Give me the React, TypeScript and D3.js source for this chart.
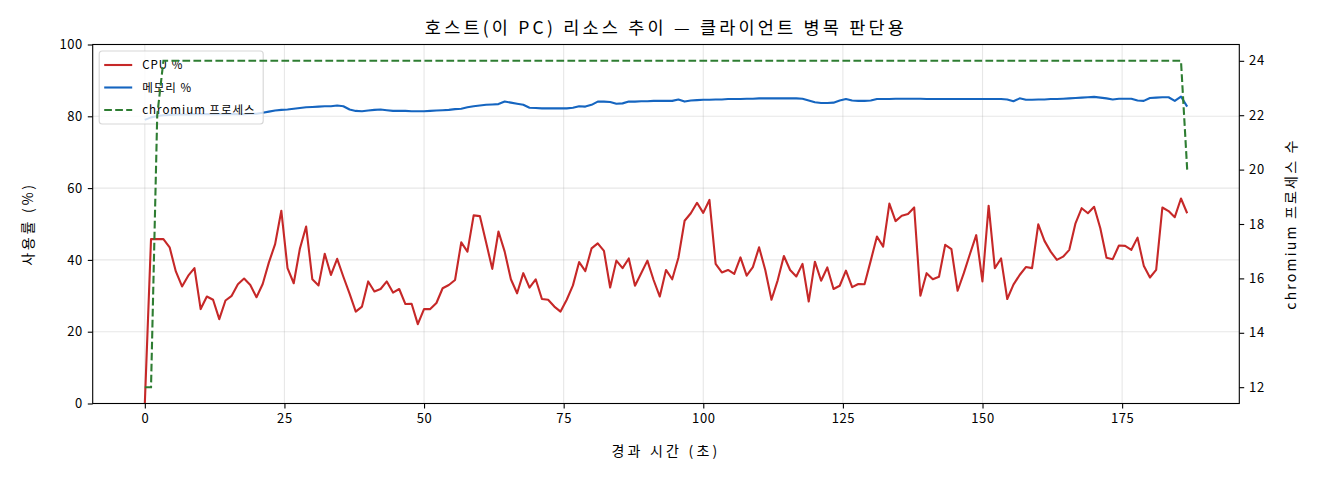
import React, { useEffect, useRef } from 'react';
import * as d3 from 'd3';

// sampling period of the monitor (seconds between samples)
const SAMPLE_SEC = 1.111;

const cpu = [
  0, 45.8, 45.8, 45.8, 43.5, 36.8, 32.6, 35.6, 37.7, 26.3,
  29.8, 28.9, 23.5, 28.7, 30, 33.2, 34.8, 33, 29.6, 33.3,
  39.3, 44.4, 53.7, 37.7, 33.5, 43.2, 49.3, 34.6, 32.9, 41.7,
  35.8, 40.3, 35.3, 30.6, 25.6, 27, 34, 31.2, 31.9, 34,
  30.9, 31.9, 27.7, 27.8, 22.1, 26.3, 26.3, 28, 32.1, 33,
  34.4, 44.9, 42.3, 52.4, 52.2, 44.9, 37.5, 47.9, 42.3, 34.6,
  30.7, 36.3, 32.3, 34.6, 29.1, 28.9, 27, 25.6, 28.9, 32.9,
  39.4, 36.9, 43.2, 44.6, 42.5, 32.3, 39.8, 37.7, 40.4, 32.8,
  36.3, 39.8, 34.4, 29.8, 37.2, 34.6, 40.6, 50.9, 53, 55.9,
  53.1, 56.7, 38.9, 36.5, 37.2, 36.1, 40.7, 35.6, 38, 43.5,
  37.2, 28.9, 34.3, 41.1, 37.2, 35.4, 38.9, 28.4, 39.5, 34.2,
  37.9, 31.9, 32.8, 37, 32.4, 33.3, 33.2, 39.8, 46.5, 43.7,
  55.7, 50.8, 52.3, 52.8, 54.6, 30, 36.3, 34.6, 35.3, 44.2,
  43, 31.4, 36.3, 41.7, 46.9, 34, 55.1, 37.7, 40.4, 29.1,
  33.1, 35.8, 38, 37.7, 49.9, 45.3, 42.3, 40, 40.9, 42.8,
  50.2, 54.4, 53, 54.8, 48.8, 40.6, 40.2, 44, 43.9, 42.8,
  46.2, 38.4, 35.1, 37.2, 54.6, 53.6, 51.9, 57.1, 53,
];

const mem = [
  79.0, 79.7, 80.1, 80.3, 80.4, 80.5, 80.5, 80.5, 80.6, 80.6,
  80.6, 80.6, 80.6, 80.6, 80.6, 80.6, 80.6, 80.7, 80.7, 81.0,
  81.3, 81.6, 81.8, 81.9, 82.1, 82.3, 82.5, 82.6, 82.7, 82.8,
  82.8, 83.0, 82.8, 81.9, 81.5, 81.4, 81.6, 81.8, 81.9, 81.7,
  81.5, 81.5, 81.5, 81.4, 81.4, 81.4, 81.5, 81.6, 81.7, 81.8,
  82.0, 82.1, 82.5, 82.8, 83.0, 83.2, 83.3, 83.4, 84.1, 83.8,
  83.5, 83.2, 82.4, 82.3, 82.2, 82.2, 82.2, 82.2, 82.2, 82.4,
  82.8, 82.7, 83.2, 84.1, 84.1, 84.0, 83.5, 83.6, 84.1, 84.1,
  84.2, 84.2, 84.3, 84.3, 84.3, 84.3, 84.7, 84.1, 84.4, 84.5,
  84.6, 84.6, 84.7, 84.7, 84.8, 84.8, 84.8, 84.9, 84.9, 85.0,
  85.0, 85.0, 85.0, 85.0, 85.0, 85.0, 84.9, 84.4, 83.9, 83.7,
  83.7, 83.8, 84.4, 84.8, 84.4, 84.3, 84.3, 84.4, 84.8, 84.8,
  84.8, 84.9, 84.9, 84.9, 84.9, 84.9, 84.8, 84.8, 84.8, 84.8,
  84.8, 84.8, 84.8, 84.8, 84.8, 84.8, 84.8, 84.8, 84.8, 84.7,
  84.2, 85.0, 84.6, 84.6, 84.7, 84.7, 84.8, 84.8, 84.9, 85.0,
  85.1, 85.2, 85.3, 85.4, 85.2, 85.0, 84.7, 84.9, 84.9, 84.9,
  84.4, 84.3, 85.1, 85.2, 85.3, 85.3, 84.3, 85.5, 82.7,
];

const procs = [
  12, 12, 22, 24, 24, 24, 24, 24, 24, 24,
  24, 24, 24, 24, 24, 24, 24, 24, 24, 24,
  24, 24, 24, 24, 24, 24, 24, 24, 24, 24,
  24, 24, 24, 24, 24, 24, 24, 24, 24, 24,
  24, 24, 24, 24, 24, 24, 24, 24, 24, 24,
  24, 24, 24, 24, 24, 24, 24, 24, 24, 24,
  24, 24, 24, 24, 24, 24, 24, 24, 24, 24,
  24, 24, 24, 24, 24, 24, 24, 24, 24, 24,
  24, 24, 24, 24, 24, 24, 24, 24, 24, 24,
  24, 24, 24, 24, 24, 24, 24, 24, 24, 24,
  24, 24, 24, 24, 24, 24, 24, 24, 24, 24,
  24, 24, 24, 24, 24, 24, 24, 24, 24, 24,
  24, 24, 24, 24, 24, 24, 24, 24, 24, 24,
  24, 24, 24, 24, 24, 24, 24, 24, 24, 24,
  24, 24, 24, 24, 24, 24, 24, 24, 24, 24,
  24, 24, 24, 24, 24, 24, 24, 24, 24, 24,
  24, 24, 24, 24, 24, 24, 24, 24, 20,
];

const xTicks = [0, 25, 50, 75, 100, 125, 150, 175];
const yTicks = [0, 20, 40, 60, 80, 100];
const y2Ticks = [12, 14, 16, 18, 20, 22, 24];

const TITLE = '호스트(이 PC) 리소스 추이 — 클라이언트 병목 판단용';
const X_LABEL = '경과 시간 (초)';
const Y_LABEL = '사용률 (%)';
const Y2_LABEL = 'chromium 프로세스 수';

const series = [
  { name: 'CPU %', values: cpu, color: '#c62828', dash: null, axis: 'left' },
  { name: '메모리 %', values: mem, color: '#1565c0', dash: null, axis: 'left' },
  { name: 'chromium 프로세스', values: procs, color: '#2e7d32', dash: '7.7,3.3', axis: 'right' },
];

const FONT = '"Noto Sans CJK KR", "DejaVu Sans", sans-serif';

export default function App() {
  const svgRef = useRef<SVGSVGElement>(null);

  useEffect(() => {
    document.body.style.margin = '0';
    if (!svgRef.current) return;
    drawChart();
  }, []);

  const drawChart = () => {
    const svg = d3.select(svgRef.current);
    svg.selectAll('*').remove();

    const width = 1320;
    const height = 480;
    const margin = { top: 44.5, right: 80.7, bottom: 76.5, left: 92.7 };
    const innerW = width - margin.left - margin.right;
    const innerH = height - margin.top - margin.bottom;

    svg.attr('width', width).attr('height', height).style('font-family', FONT);

    const g = svg.append('g').attr('transform', `translate(${margin.left},${margin.top})`);

    const times = cpu.map((_, i) => i * SAMPLE_SEC);
    const tMax = d3.max(times) as number;

    // matplotlib-ish 5% margins
    const x = d3.scaleLinear().domain([-tMax * 0.05, tMax * 1.05]).range([0, innerW]);
    const y = d3.scaleLinear().domain([0, 100]).range([innerH, 0]);
    const pMin = d3.min(procs) as number;
    const pMax = d3.max(procs) as number;
    const pPad = (pMax - pMin) * 0.05;
    const y2 = d3.scaleLinear().domain([pMin - pPad, pMax + pPad]).range([innerH, 0]);

    // grid
    const grid = g.append('g');
    xTicks.forEach((t) => {
      grid.append('line')
        .attr('x1', x(t)).attr('x2', x(t))
        .attr('y1', 0).attr('y2', innerH)
        .attr('stroke', '#b0b0b0').attr('stroke-opacity', 0.3).attr('stroke-width', 1.1);
    });
    yTicks.forEach((t) => {
      grid.append('line')
        .attr('x1', 0).attr('x2', innerW)
        .attr('y1', y(t)).attr('y2', y(t))
        .attr('stroke', '#b0b0b0').attr('stroke-opacity', 0.3).attr('stroke-width', 1.1);
    });

    const lineFor = (scale: d3.ScaleLinear<number, number>) =>
      d3.line<number>()
        .x((_, i) => x(times[i]))
        .y((d) => scale(d));

    // left-axis series
    series.filter((s) => s.axis === 'left').forEach((s) => {
      g.append('path')
        .datum(s.values)
        .attr('d', lineFor(y))
        .attr('fill', 'none')
        .attr('stroke', s.color)
        .attr('stroke-width', 2.1)
        .attr('stroke-linejoin', 'round');
    });

    // legend (belongs to left axes, so the twin-axis line draws over it)
    const lg = g.append('g').attr('transform', 'translate(6.5,6.5)');
    lg.append('rect')
      .attr('width', 164).attr('height', 73)
      .attr('rx', 3)
      .attr('fill', '#fff').attr('fill-opacity', 0.8)
      .attr('stroke', '#cccccc').attr('stroke-opacity', 0.8).attr('stroke-width', 1.1);
    series.forEach((s, i) => {
      const ly = 14 + i * 22.5;
      lg.append('line')
        .attr('x1', 5).attr('x2', 33)
        .attr('y1', ly).attr('y2', ly)
        .attr('stroke', s.color).attr('stroke-width', 2.1)
        .attr('stroke-dasharray', s.dash);
      lg.append('text')
        .attr('x', 43).attr('y', ly)
        .attr('dy', '0.35em')
        .style('font-size', '11.5px')
        .style('letter-spacing', '1px')
        .style('fill', '#000')
        .text(s.name);
    });

    // right-axis series
    series.filter((s) => s.axis === 'right').forEach((s) => {
      g.append('path')
        .datum(s.values)
        .attr('d', lineFor(y2))
        .attr('fill', 'none')
        .attr('stroke', s.color)
        .attr('stroke-width', 2.1)
        .attr('stroke-dasharray', s.dash);
    });

    // axes
    const styleAxis = (sel: d3.Selection<SVGGElement, unknown, null, undefined>) => {
      sel.select('.domain').remove();
      sel.selectAll('line').attr('stroke', '#000').attr('stroke-width', 1.1);
      sel.selectAll('text').style('font-size', '13px').style('letter-spacing', '0.6px')
        .style('fill', '#000').style('font-family', FONT);
    };

    g.append('g')
      .attr('transform', `translate(0,${innerH})`)
      .call(d3.axisBottom(x).tickValues(xTicks).tickSize(4.9).tickPadding(4.9).tickFormat(d3.format('d')))
      .call(styleAxis);

    g.append('g')
      .call(d3.axisLeft(y).tickValues(yTicks).tickSize(4.9).tickPadding(4.9).tickFormat(d3.format('d')))
      .call(styleAxis);

    g.append('g')
      .attr('transform', `translate(${innerW},0)`)
      .call(d3.axisRight(y2).tickValues(y2Ticks).tickSize(4.9).tickPadding(4.9).tickFormat(d3.format('d')))
      .call(styleAxis);

    // spines
    g.append('rect')
      .attr('width', innerW).attr('height', innerH)
      .attr('fill', 'none').attr('stroke', '#000').attr('stroke-width', 1.1);

    // labels
    svg.append('text')
      .attr('x', margin.left + innerW / 2)
      .attr('y', 34)
      .attr('text-anchor', 'middle')
      .style('font-size', '17.5px')
      .style('letter-spacing', '3.2px')
      .text(TITLE);

    svg.append('text')
      .attr('x', margin.left + innerW / 2)
      .attr('y', 456)
      .attr('text-anchor', 'middle')
      .style('font-size', '14px')
      .style('letter-spacing', '3.2px')
      .text(X_LABEL);

    svg.append('text')
      .attr('transform', `translate(33,${margin.top + innerH / 2}) rotate(-90)`)
      .attr('text-anchor', 'middle')
      .style('font-size', '14px')
      .style('letter-spacing', '2.8px')
      .text(Y_LABEL);

    svg.append('text')
      .attr('transform', `translate(1296,${margin.top + innerH / 2}) rotate(-90)`)
      .attr('text-anchor', 'middle')
      .style('font-size', '14px')
      .style('letter-spacing', '2.2px')
      .text(Y2_LABEL);
  };

  return (
    <div style={{ width: 1320, height: 480, background: '#fff' }}>
      <svg ref={svgRef}></svg>
    </div>
  );
}
